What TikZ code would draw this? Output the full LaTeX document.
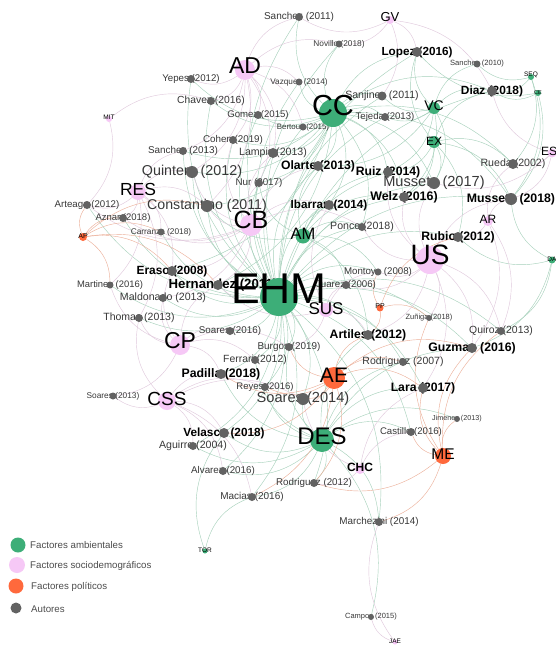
\documentclass[tikz,border=0pt]{standalone}
\usepackage{fontspec}
\setmainfont{Liberation Sans}
\usetikzlibrary{backgrounds}
\definecolor{cgreen}{RGB}{61,174,120}
\definecolor{cpink}{RGB}{246,200,246}
\definecolor{corange}{RGB}{255,105,60}
\definecolor{cgray}{RGB}{98,98,98}
\definecolor{egreen}{RGB}{165,208,186}
\definecolor{epink}{RGB}{224,200,220}
\definecolor{eorange}{RGB}{236,175,152}
\newcommand\myfs[1]{\fontsize{#1}{#1}\selectfont}
\pgfdeclarelayer{lablayer}
\pgfsetlayers{background,lablayer,main}
\newcommand\aut[6]{%
  \begin{pgfonlayer}{lablayer}\node[#5] (#1-l) at (#2,#3) {#6};\end{pgfonlayer}%
  \node[au=#4] (#1) at (#2,#3) {};}
\begin{document}
\begin{tikzpicture}[x=1pt,y=-1pt,
 au/.style={circle,fill=cgray,draw=none,inner sep=0pt,minimum size=2*#1},
 fac/.style={circle,draw=none,inner sep=0pt,minimum size=2*#1},
 al/.style={font=\myfs{#1},text=black!78,inner sep=0pt},
 alb/.style={font=\myfs{#1}\bfseries,text=black,inner sep=0pt},
 fl/.style={font=\myfs{#1},text=black,inner sep=0pt},
 eg/.style={draw=egreen,line width=0.42pt},
 ep/.style={draw=epink,line width=0.42pt},
 eo/.style={draw=eorange,line width=0.42pt},
 bd/.style={bend left=28},
 legt/.style={font=\myfs{9.7},text=black!70,anchor=west,inner sep=0pt}]
\useasboundingbox (0,0) rectangle (556,645);

% ---------- authors ----------
\aut{sanchez11}{299}{17}{4}{al=10}{Sanchez (2011)}
\aut{novillo}{339}{44}{3.5}{al=8.3}{Novillo (2018)}
\aut{lopez}{417}{52}{5}{alb=11.7}{Lopez (2016)}
\aut{sanchez10}{477}{64}{3.5}{al=7.6}{Sanchez (2010)}
\aut{yepes}{191}{79}{4}{al=9.7}{Yepes (2012)}
\aut{vazquez}{299}{82}{3.5}{al=8.2}{Vazquez (2014)}
\aut{chavez}{211}{101}{4}{al=10.3}{Chavez (2016)}
\aut{diaz}{492}{91}{5}{alb=11.9}{Diaz (2018)}
\aut{sanjines}{382}{96}{4.5}{al=10.6}{Sanjines (2011)}
\aut{gomez}{258}{115}{4}{al=9.6}{Gomez (2015)}
\aut{tejeda}{385}{117}{4}{al=9.6}{Tejeda (2013)}
\aut{bertoux}{303}{127}{3.5}{al=7.9}{Bertoux (2015)}
\aut{cohen}{233}{140}{4}{al=9.8}{Cohen (2019)}
\aut{sanchez13}{183}{151}{4}{al=9.9}{Sanchez (2013)}
\aut{lampis}{273}{153}{5}{al=10.6}{Lampis (2013)}
\aut{rueda}{513}{164}{5}{al=10.6}{Rueda (2002)}
\aut{olarte}{318}{166}{5}{alb=12.2}{Olarte (2013)}
\aut{ruiz}{388}{172}{5}{alb=12.2}{Ruiz (2014)}
\aut{quintera}{192}{172}{6}{al=14.3}{Quintera (2012)}
\aut{musseta17}{434}{183}{6}{al=14.6}{Musseta (2017)}
\aut{nur}{259}{183}{4}{al=9.8}{Nur (2017)}
\aut{welz}{404}{197}{5}{alb=12.4}{Welz (2016)}
\aut{musseta18}{511}{199}{6}{alb=12.3}{Musseta (2018)}
\aut{arteaga}{87}{205}{4}{al=9.7}{Arteaga (2012)}
\aut{constantino}{207}{206}{6}{al=14.2}{Constantino (2011)}
\aut{ibarran}{329}{205}{5}{alb=11.7}{Ibarran (2014)}
\aut{aznar}{123}{218}{4}{al=9.5}{Aznar (2018)}
\aut{ponce}{362}{227}{4}{al=10.6}{Ponce (2018)}
\aut{carranza}{161}{232}{3.5}{al=8.3}{Carranza (2018)}
\aut{rubio}{458}{237}{5}{alb=12.2}{Rubio (2012)}
\aut{eraso}{172}{271}{5}{alb=11.9}{Eraso (2008)}
\aut{montoya}{378}{272}{3.5}{al=9.7}{Montoya (2008)}
\aut{hernandez}{218}{285}{5}{alb=13.2,xshift=5}{Hernandez (2011)}
\aut{martinez}{110}{285}{3.5}{al=9.4}{Martinez (2016)}
\aut{juarez}{346}{285}{4}{al=9.7}{Juarez (2006)}
\aut{maldonado}{163}{298}{4}{al=10.6}{Maldonado (2013)}
\aut{thomas}{139}{318}{4}{al=10.5}{Thomas (2013)}
\aut{zuniga}{429}{318}{3}{al=7.5}{Zuñiga (2018)}
\aut{soares16}{230}{331}{4}{al=9.8}{Soares (2016)}
\aut{quiroz}{501}{331}{4}{al=10.4}{Quiroz (2013)}
\aut{artiles}{368}{335}{5}{alb=12.2}{Artiles (2012)}
\aut{burgos}{289}{347}{4}{al=9.9}{Burgos (2019)}
\aut{guzman}{472}{348}{5}{alb=12.3}{Guzman (2016)}
\aut{ferrari}{255}{360}{4}{al=10.4}{Ferrari (2012)}
\aut{rodriguez07}{403}{362}{4}{al=10.5}{Rodriguez (2007)}
\aut{padilla}{221}{374}{5}{alb=12.3}{Padilla (2018)}
\aut{reyes}{265}{387}{4}{al=9.5}{Reyes (2016)}
\aut{lara}{423}{388}{5}{alb=12.2}{Lara (2017)}
\aut{soares13}{113}{396}{3.5}{al=8.3}{Soares (2013)}
\aut{soares14}{303}{399}{6}{al=14.6}{Soares (2014)}
\aut{jimenez}{457}{419}{3}{al=7.2}{Jimenez (2013)}
\aut{velasco}{224}{433}{5}{alb=11.8}{Velasco (2018)}
\aut{castillo}{411}{432}{4}{al=9.6}{Castillo (2016)}
\aut{aguirre}{193}{446}{4}{al=10.6}{Aguirre (2004)}
\aut{alvarez}{223}{471}{4}{al=9.8}{Alvarez (2016)}
\aut{rodriguez12}{314}{483}{4}{al=9.8}{Rodriguez (2012)}
\aut{macias}{252}{497}{4}{al=10}{Macias (2016)}
\aut{marchezini}{379}{522}{4}{al=9.9}{Marchezini (2014)}
\aut{campos}{371}{617}{3}{al=7.5}{Campos (2015)}

% ---------- factors ----------
\node[fac=19,fill=cgreen,label={[fl=43,yshift=8]center:EHM}] (EHM) at (279,297) {};
\node[fac=14,fill=cgreen,label={[fl=29,yshift=7]center:CC}] (CC) at (333,113) {};
\node[fac=7.5,fill=cgreen,label={[fl=16.5,yshift=2]center:AM}] (AM) at (303,236) {};
\node[fac=6,fill=cgreen,label={[fl=14,yshift=2]center:VC}] (VC) at (434,108) {};
\node[fac=6,fill=cgreen,label={[fl=12,yshift=1]center:EX}] (EX) at (434,142) {};
\node[fac=12,fill=cgreen,label={[fl=24,yshift=4]center:DES}] (DES) at (322,440) {};
\node[fac=3,fill=cgreen,label={[fl=6.5,yshift=2]center:SEQ}] (SEQ) at (531,77) {};
\node[fac=3,fill=cgreen,label={[fl=5.5]center:CE}] (CE) at (538,93) {};
\node[fac=3.5,fill=cgreen,label={[fl=6.5,yshift=1]center:DA}] (DA) at (552,260) {};
\node[fac=2.5,fill=cgreen,label={[fl=6.5,yshift=1]center:TOR}] (TOR) at (205,551) {};

\node[fac=10,fill=cpink,label={[fl=23,yshift=4]center:AD}] (AD) at (245,70) {};
\node[fac=4,fill=cpink,label={[fl=13,yshift=3]center:GV}] (GV) at (390,20) {};
\node[fac=3,fill=cpink,label={[fl=6.5,yshift=2]center:MIT}] (MIT) at (109,119) {};
\node[fac=8,fill=cpink,label={[fl=17.5,yshift=3]center:RES}] (RES) at (138,192) {};
\node[fac=11,fill=cpink,label={[fl=25,yshift=5]center:CB}] (CB) at (251,225) {};
\node[fac=14,fill=cpink,label={[fl=28,yshift=5]center:US}] (US) at (430,260) {};
\node[fac=5,fill=cpink,label={[fl=12,yshift=2]center:AR}] (AR) at (488,221) {};
\node[fac=4.5,fill=cpink,label={[fl=12,xshift=-3,yshift=2]center:ES}] (ES) at (552,153) {};
\node[fac=7,fill=cpink,label={[fl=17,yshift=1]center:SUS}] (SUS) at (326,310) {};
\node[fac=10,fill=cpink,label={[fl=23,yshift=4]center:CP}] (CP) at (180,345) {};
\node[fac=9,fill=cpink,label={[fl=19,yshift=2]center:CSS}] (CSS) at (167,401) {};
\node[fac=5,fill=cpink,label={[fl=12,yshift=2,font=\myfs{12}\bfseries]center:CHC}] (CHC) at (360,469) {};
\node[fac=2.5,fill=cpink,label={[fl=6.5,yshift=1]center:JAE}] (JAE) at (395,642) {};

\node[fac=4,fill=corange,label={[fl=7,yshift=1]center:AP}] (AP) at (83,237) {};
\node[fac=3.5,fill=corange,label={[fl=7,yshift=2]center:PP}] (PP) at (380,308) {};
\node[fac=11,fill=corange,label={[fl=21,yshift=3]center:AE}] (AE) at (334,378) {};
\node[fac=8,fill=corange,label={[fl=15.5,yshift=2]center:ME}] (ME) at (443,456) {};

% ---------- legend ----------
\node[fac=7.5,fill=cgreen] (lg1) at (18,545) {};
\node[fac=8,fill=cpink] (lg2) at (17,565) {};
\node[fac=7.5,fill=corange] (lg3) at (16,586) {};
\node[fac=5.5,fill=cgray] (lg4) at (16,608) {};
\node[legt] (lt1) at (30,545) {Factores ambientales};
\node[legt] (lt2) at (30,566) {Factores sociodemográficos};
\node[legt] (lt3) at (31,587) {Factores políticos};
\node[legt] (lt4) at (31,609) {Autores};

% ---------- edges ----------
\begin{scope}[on background layer]
\fill[white] (0,0) rectangle (556,645);
\foreach \t in {sanchez11,novillo,lopez,yepes,vazquez,chavez,gomez,cohen,sanchez13,lampis,olarte,ruiz,quintera,musseta17,nur,welz,musseta18,constantino,ibarran,ponce,carranza,rubio,eraso,montoya,hernandez,martinez,juarez,maldonado,thomas,zuniga,soares16,quiroz,artiles,burgos,guzman,ferrari,rodriguez07,padilla,reyes,lara,soares14,velasco,castillo,aguirre,alvarez,rodriguez12,macias,marchezini,arteaga,aznar,diaz,sanjines,tejeda,bertoux}
  \draw[eg] (EHM) to[bd] (\t);
\foreach \t in {sanchez11,novillo,vazquez,gomez,bertoux,cohen,lampis,chavez,yepes,olarte,ruiz,tejeda,sanjines,quintera,nur,ibarran,welz,musseta17,constantino,sanchez13,lopez,diaz,musseta18,rueda,eraso,hernandez,ponce}
  \draw[eg] (CC) to[bd] (\t);
\foreach \t in {ponce,ibarran,nur,olarte,montoya,ruiz,constantino,juarez,welz,artiles}
  \draw[eg] (AM) to[bd] (\t);
\foreach \t in {lopez,sanjines,tejeda,diaz,welz,ruiz,musseta17,sanchez10,olarte}
  \draw[eg] (VC) to[bd] (\t);
\foreach \t in {musseta17,ruiz,welz,diaz,rueda,lopez,musseta18,rubio}
  \draw[eg] (EX) to[bd] (\t);
\foreach \t in {soares14,velasco,rodriguez12,macias,alvarez,castillo,marchezini,campos,lara,reyes,rodriguez07,aguirre,padilla,burgos,ferrari,artiles,guzman,jimenez}
  \draw[eg] (DES) to[bd] (\t);
\foreach \t in {diaz,musseta18,sanchez10,rueda}
  \draw[eg] (SEQ) to[bd] (\t);
\foreach \t in {diaz,lopez,musseta18}
  \draw[eg] (CE) to[bd] (\t);
\foreach \t in {musseta18,quiroz,guzman,rubio}
  \draw[eg] (DA) to[bd] (\t);
\foreach \t in {macias,velasco}
  \draw[eg] (TOR) to[bd] (\t);
\foreach \t in {yepes,chavez,gomez,vazquez,cohen,sanchez13,quintera,sanchez11,novillo,lampis,constantino,nur,bertoux}
  \draw[ep] (AD) to[bd] (\t);
\foreach \t in {sanchez11,lopez,novillo,sanjines,diaz}
  \draw[ep] (GV) to[bd] (\t);
\foreach \t in {chavez,arteaga}
  \draw[ep] (MIT) to[bd] (\t);
\foreach \t in {arteaga,aznar,quintera,sanchez13,constantino,martinez,carranza,eraso,thomas}
  \draw[ep] (RES) to[bd] (\t);
\foreach \t in {constantino,quintera,nur,lampis,carranza,eraso,hernandez,ibarran,ponce,olarte,aznar,arteaga,cohen,maldonado}
  \draw[ep] (CB) to[bd] (\t);
\foreach \t in {rubio,musseta18,montoya,zuniga,guzman,quiroz,welz,musseta17,ponce,juarez,ruiz,artiles,lara}
  \draw[ep] (US) to[bd] (\t);
\foreach \t in {rubio,musseta18,rueda,guzman,quiroz}
  \draw[ep] (AR) to[bd] (\t);
\foreach \t in {rueda,musseta18,diaz,musseta17}
  \draw[ep] (ES) to[bd] (\t);
\foreach \t in {juarez,montoya,artiles,burgos,hernandez,ibarran}
  \draw[ep] (SUS) to[bd] (\t);
\foreach \t in {soares16,thomas,maldonado,padilla,ferrari,soares13,eraso,burgos,hernandez,martinez}
  \draw[ep] (CP) to[bd] (\t);
\foreach \t in {soares13,padilla,velasco,aguirre,alvarez,reyes,soares14,thomas,macias}
  \draw[ep] (CSS) to[bd] (\t);
\foreach \t in {castillo,rodriguez12,soares14,lara}
  \draw[ep] (CHC) to[bd] (\t);
\foreach \t in {marchezini,campos}
  \draw[ep] (JAE) to[bd] (\t);
\foreach \t in {aznar,carranza,martinez,hernandez,constantino,arteaga,eraso}
  \draw[eo] (AP) to[bd] (\t);
\foreach \t in {zuniga,montoya,artiles,rubio}
  \draw[eo] (PP) to[bd] (\t);
\foreach \t in {soares14,lara,artiles,rodriguez07,padilla,velasco,macias,reyes,burgos,guzman,rodriguez12}
  \draw[eo] (AE) to[bd] (\t);
\foreach \t in {castillo,lara,jimenez,marchezini,quiroz,guzman,rodriguez12,zuniga}
  \draw[eo] (ME) to[bd] (\t);
\end{scope}
\end{tikzpicture}
\end{document}
